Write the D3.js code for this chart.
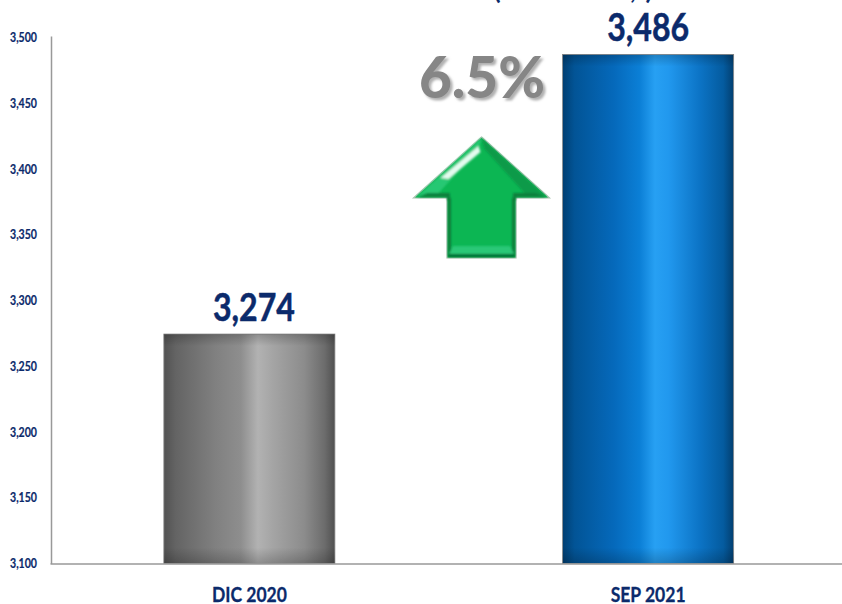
<!DOCTYPE html>
<html><head><meta charset="utf-8">
<script src="https://cdn.jsdelivr.net/npm/d3@7/dist/d3.min.js"></script>
<style>html,body{margin:0;padding:0;background:#fff}svg{display:block}</style>
</head><body><svg id="c" width="842" height="604"></svg>
<script>
const categories = ["DIC 2020", "SEP 2021"];
const values = [3274, 3486];
const yTicks = [3100, 3150, 3200, 3250, 3300, 3350, 3400, 3450, 3500];
const changeLabel = "6.5%";
const font = "Lato, 'Open Sans', 'Noto Sans', sans-serif";
const navy = "#0b2a6b";

const svg = d3.select("#c");
const defs = svg.append("defs");
const y = d3.scaleLinear().domain([3100, 3500]).range([563.5, 36]);
const x = d3.scaleBand().domain(categories).range([50, 847.5]).paddingInner(0.571).paddingOuter(0.2855);
const fmt = d3.format(",");

function grad(id, stops, vertical){
  const g = defs.append("linearGradient").attr("id", id).attr("x1",0).attr("x2",vertical?0:1).attr("y1",0).attr("y2",vertical?1:0);
  stops.forEach(s => g.append("stop").attr("offset", s[0]).attr("stop-color", s[1]).attr("stop-opacity", s[2] === undefined ? 1 : s[2]));
}
grad("gGrey", [[0,"#525252"],[0.07,"#646464"],[0.3,"#808080"],[0.45,"#8e8e8e"],[0.55,"#b2b2b2"],[0.64,"#a4a4a4"],[0.82,"#8c8c8c"],[0.94,"#6c6c6c"],[1,"#505050"]]);
grad("gBlue", [[0,"#013f72"],[0.07,"#025496"],[0.3,"#0569bb"],[0.45,"#0b7fd6"],[0.54,"#27a0f3"],[0.62,"#2198ee"],[0.8,"#0c74c6"],[0.94,"#045b9f"],[1,"#023f70"]]);
grad("shadeTop", [[0,"#000",0.2],[1,"#000",0]], true);
grad("shadeBottom", [[0,"#000",0],[1,"#000",0.2]], true);
const fills = ["url(#gGrey)", "url(#gBlue)"];

const soft = defs.append("filter").attr("id","soft").attr("x","-10%").attr("y","-10%").attr("width","125%").attr("height","130%");
soft.append("feDropShadow").attr("dx",2.5).attr("dy",2.5).attr("stdDeviation",1.3).attr("flood-color","#b0b0b0");
const smooth = defs.append("filter").attr("id","smooth").attr("x","-5%").attr("y","-5%").attr("width","110%").attr("height","110%");
smooth.append("feGaussianBlur").attr("stdDeviation",0.9);

// bars
const bars = svg.append("g");
bars.selectAll("rect.bar").data(values).join("rect").attr("class","bar")
  .attr("x",(d,i)=>x(categories[i])).attr("width",x.bandwidth())
  .attr("y",d=>y(d)).attr("height",d=>y(3100)-y(d))
  .attr("fill",(d,i)=>fills[i]).attr("stroke","#8c8c8c").attr("stroke-width",0.8);
bars.selectAll("rect.top").data(values).join("rect").attr("class","top")
  .attr("x",(d,i)=>x(categories[i])).attr("width",x.bandwidth())
  .attr("y",d=>y(d)).attr("height",12).attr("fill","url(#shadeTop)");
bars.selectAll("rect.bot").data(values).join("rect").attr("class","bot")
  .attr("x",(d,i)=>x(categories[i])).attr("width",x.bandwidth())
  .attr("y",y(3100)-16).attr("height",16).attr("fill","url(#shadeBottom)");

// value labels
const labelShift = [4.5, 0];
svg.append("g").selectAll("text").data(values).join("text")
  .attr("x",(d,i)=>x(categories[i])+x.bandwidth()/2+labelShift[i]).attr("y",d=>y(d)-13.5)
  .attr("text-anchor","middle").attr("font-family",font).attr("font-weight",700)
  .attr("font-size",39).attr("fill",navy).attr("stroke",navy).attr("stroke-width",0.5)
  .attr("textLength",82).attr("lengthAdjust","spacingAndGlyphs").text(d=>fmt(d));

// axes
const yAxis = svg.append("g").attr("transform","translate(51,0)")
  .call(d3.axisLeft(y).tickValues(yTicks).tickSize(0).tickFormat(fmt));
yAxis.selectAll("text").attr("font-family",font).attr("font-weight",700).attr("font-size",12.5).attr("fill",navy)
  .attr("stroke",navy).attr("stroke-width",0.2).attr("x",-14)
  .attr("y",(d,i)=>i/(yTicks.length-1)*1.5)
  .attr("textLength",27).attr("lengthAdjust","spacingAndGlyphs");
yAxis.select(".domain").attr("stroke","#999").attr("stroke-width",1.5);

const xAxis = svg.append("g").attr("transform",`translate(0,${y(3100)})`)
  .call(d3.axisBottom(x).tickSize(0));
xAxis.selectAll("text").attr("font-family",font).attr("font-weight",700).attr("font-size",21.5).attr("fill",navy)
  .attr("stroke",navy).attr("stroke-width",0.3).attr("dy",0).attr("y",38.5)
  .attr("textLength",75).attr("lengthAdjust","spacingAndGlyphs");
xAxis.select(".domain").attr("stroke","#999").attr("stroke-width",1.5);

// change annotation
svg.append("text").attr("x",482).attr("y",98).attr("text-anchor","middle")
  .attr("font-family",font).attr("font-weight",900).attr("font-size",57).attr("fill","#868686")
  .attr("textLength",126).attr("lengthAdjust","spacingAndGlyphs")
  .attr("filter","url(#soft)").text(changeLabel);

// arrow with bevelled facets
const cx = 481.5, tipY = 137, baseY = 198, halfW = 68, halfS = 34.5, endY = 258, inset = 6;
const arrow = svg.append("g");
arrow.append("path")
  .attr("d",`M${cx},${tipY}L${cx+halfW},${baseY}H${cx+halfS}V${endY}H${cx-halfS}V${baseY}H${cx-halfW}Z`)
  .attr("fill","#0cb653").attr("stroke","#a9c4b0").attr("stroke-width",1.2);
const inner = arrow.append("g").attr("filter","url(#smooth)");
// head: right slope, left slope, undersides
inner.append("path").attr("d",`M${cx},${tipY+1}L${cx+halfW-3},${baseY-1}H${cx+halfS+12}L${cx+3},${tipY+12}Z`).attr("fill","#0a9a49");
inner.append("path").attr("d",`M${cx},${tipY+1}L${cx-halfW+3},${baseY-1}H${cx-halfS-12}L${cx-3},${tipY+12}Z`).attr("fill","#28c873");
inner.append("path").attr("d",`M${cx-3},${tipY+9}L${cx-41},${tipY+41}L${cx-33},${tipY+42}L${cx-1},${tipY+15}Z`).attr("fill","#e4fbef");
inner.append("path").attr("d",`M${cx-halfW+4},${baseY-1}H${cx-halfS}V${baseY+2}H${cx-halfS+3}V${baseY-5}H${cx-halfW+14}Z`).attr("fill","#07803c");
inner.append("path").attr("d",`M${cx+halfW-4},${baseY-1}H${cx+halfS}V${baseY+2}H${cx+halfS-3}V${baseY-5}H${cx+halfW-14}Z`).attr("fill","#07803c");
// shaft: side walls and foot
inner.append("path").attr("d",`M${cx-halfS+1},${baseY}V${endY-1}H${cx-halfS+inset-2}V${baseY}Z`).attr("fill","#087a3a");
inner.append("path").attr("d",`M${cx+halfS-1},${baseY}V${endY-1}H${cx+halfS-inset+2}V${baseY}Z`).attr("fill","#087a3a");
inner.append("path").attr("d",`M${cx-halfS+inset},${endY-12}H${cx+halfS-inset}L${cx+halfS-2},${endY-4}H${cx-halfS+2}Z`).attr("fill","#2bc877");
inner.append("path").attr("d",`M${cx-halfS+1},${endY-4}H${cx+halfS-1}V${endY-1}H${cx-halfS+1}Z`).attr("fill","#066a31");

// heading clipped by the top edge: only the descenders show
const headingGlyphs = ["(", ",", ")"];
const headingX = [497, 633, 649];
svg.append("g").selectAll("text").data(headingGlyphs).join("text")
  .attr("x",(d,i)=>headingX[i]).attr("y",-1).attr("text-anchor","middle")
  .attr("font-family",font).attr("font-weight",700).attr("font-size",26).attr("fill",navy)
  .text(d=>d);
</script></body></html>
